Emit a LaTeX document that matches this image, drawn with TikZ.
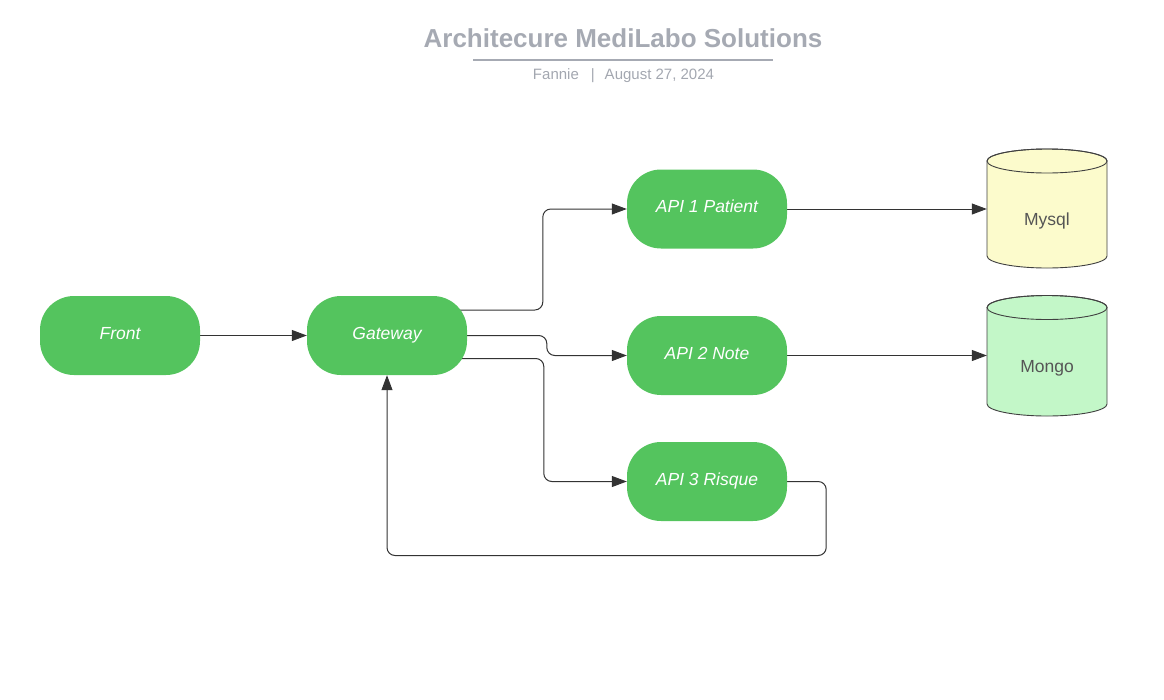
\documentclass[tikz,border=0pt]{standalone}
\usepackage{fontspec}
\setmainfont{Liberation Sans}
\usepackage{tikz}
\usetikzlibrary{arrows.meta,backgrounds}

\definecolor{apigreen}{HTML}{54C45E}
\definecolor{titlegray}{HTML}{A6AAB3}
\definecolor{subgray}{HTML}{A3A7B0}
\definecolor{linkgray}{HTML}{333333}
\definecolor{dbtext}{HTML}{555555}
\definecolor{mysqlyellow}{HTML}{FCFBCC}
\definecolor{mongogreen}{HTML}{C3F7C8}

\begin{document}
\begin{tikzpicture}[x=1pt,y=-1pt,
    api/.style={rectangle, rounded corners=34pt, fill=apigreen, minimum width=160pt,
        minimum height=79pt, inner sep=0pt, text=white, text height=12pt, text depth=4.4pt,
        font=\fontsize{17.5}{20}\selectfont\itshape},
    db/.style={minimum width=120pt, inner sep=0pt, text=dbtext, text height=12pt, text depth=4.4pt,
        font=\fontsize{17.5}{20}\selectfont},
    link/.style={draw=linkgray, line width=1pt, rounded corners=8pt,
        -{Triangle[length=15pt,width=11pt]}},
    cyl/.style={draw=black!75, line width=0.9pt}]
            \useasboundingbox (0,0) rectangle (1164,699);

            %title
            \node[font=\fontsize{26}{30}\selectfont\bfseries, text=titlegray] (title) at (623,38) {Architecure MediLabo Solutions};
            \draw[titlegray, line width=2pt] (473,60) -- (773,60);
            \node[font=\fontsize{15}{18}\selectfont, text=subgray] (byline) at (623.5,76) {Fannie\hspace{12pt}|\hspace{10pt}August 27, 2024};

            %services
            \node[api] (front) at (120,335.5) {Front};
            \node[api] (gateway) at (387,335.5) {Gateway};
            \foreach \n/\y/\t in {1/209/API 1 Patient, 2/355.5/API 2 Note, 3/481.5/API 3 Risque}
                \node[api] (api \n) at (707,\y) {\t};

            %databases
            \foreach \name/\txt/\top/\bot/\col in {mysql/Mysql/161/256/mysqlyellow, mongo/Mongo/307.5/404/mongogreen}
            {
                \draw[cyl, fill=\col] (987,\top) -- (987,\bot)
                    arc[start angle=180, end angle=0, x radius=60, y radius=12]
                    -- (1107,\top)
                    arc[start angle=0, end angle=-180, x radius=60, y radius=12] -- cycle;
                \draw[cyl] (1047,\top) ellipse[x radius=60, y radius=12];
                \node[db] (\name) at (1047,{(\top+\bot)/2+13}) {\txt};
            }

            %links
            \begin{scope}[on background layer]
                \draw[link] (front.east) -- (gateway.west);
                \draw[link] ([yshift=25.5pt]gateway.center) -| ([xshift=-84pt]api 1.west) -- (api 1.west);
                \draw[link] (gateway.east) -| ([xshift=-80pt]api 2.west) -- (api 2.west);
                \draw[link] ([yshift=-23pt]gateway.center) -| ([xshift=-83pt]api 3.west) -- (api 3.west);
                \draw[link] (api 3.east) -- ++(39,0) -- ++(0,74) -| (gateway.south);
                \draw[link] (api 1.east) -- (api 1.east -| mysql.west);
                \draw[link] (api 2.east) -- (api 2.east -| mongo.west);
            \end{scope}
\end{tikzpicture}
\end{document}
